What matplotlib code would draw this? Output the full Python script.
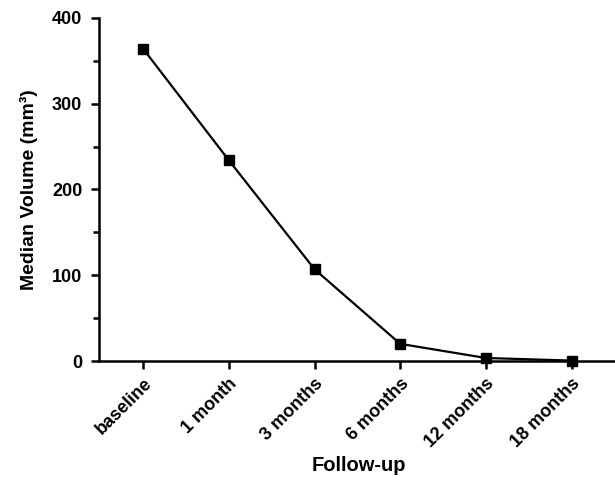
import matplotlib
matplotlib.use("Agg")
import matplotlib.pyplot as plt
from matplotlib.ticker import MultipleLocator

categories = ["baseline", "1 month", "3 months", "6 months", "12 months", "18 months"]
median_volume = [364, 234, 107, 20, 3.5, 0.5]

plt.rcParams['font.family'] = ['Liberation Sans', 'DejaVu Sans']
plt.rcParams['font.weight'] = 'bold'

fig = plt.figure(figsize=(6.15, 4.86), dpi=100)
ax = fig.add_axes([0.161, 0.2572, 0.845, 0.706])
x = list(range(len(categories)))
ax.plot(x, median_volume, color='black', lw=1.6, marker='s', markersize=7, clip_on=False, zorder=3)

ax.set_xlim(-0.515, 5.55)
ax.set_ylim(0, 400)
ax.yaxis.set_major_locator(MultipleLocator(100))
ax.yaxis.set_minor_locator(MultipleLocator(50))
ax.set_xticks(x)
ax.set_xticklabels(categories, rotation=45, ha='right', rotation_mode='anchor', fontsize=13, fontweight='bold')
for lab in ax.get_yticklabels():
    lab.set_fontsize(13)
    lab.set_fontweight('bold')

for s in ['top', 'right']:
    ax.spines[s].set_visible(False)
for s in ['left', 'bottom']:
    ax.spines[s].set_linewidth(1.8)
ax.tick_params(axis='both', which='major', width=1.8, length=6, direction='out')
ax.tick_params(axis='y', which='minor', width=1.8, length=4)
ax.tick_params(axis='x', pad=4)
ax.tick_params(axis='y', pad=6)

ax.set_xlabel("Follow-up", fontsize=14.5, fontweight='bold', labelpad=4)
ax.set_ylabel("Median Volume (mm³)", fontsize=14, fontweight='bold', labelpad=10)

fig.savefig("out.png", dpi=100)
